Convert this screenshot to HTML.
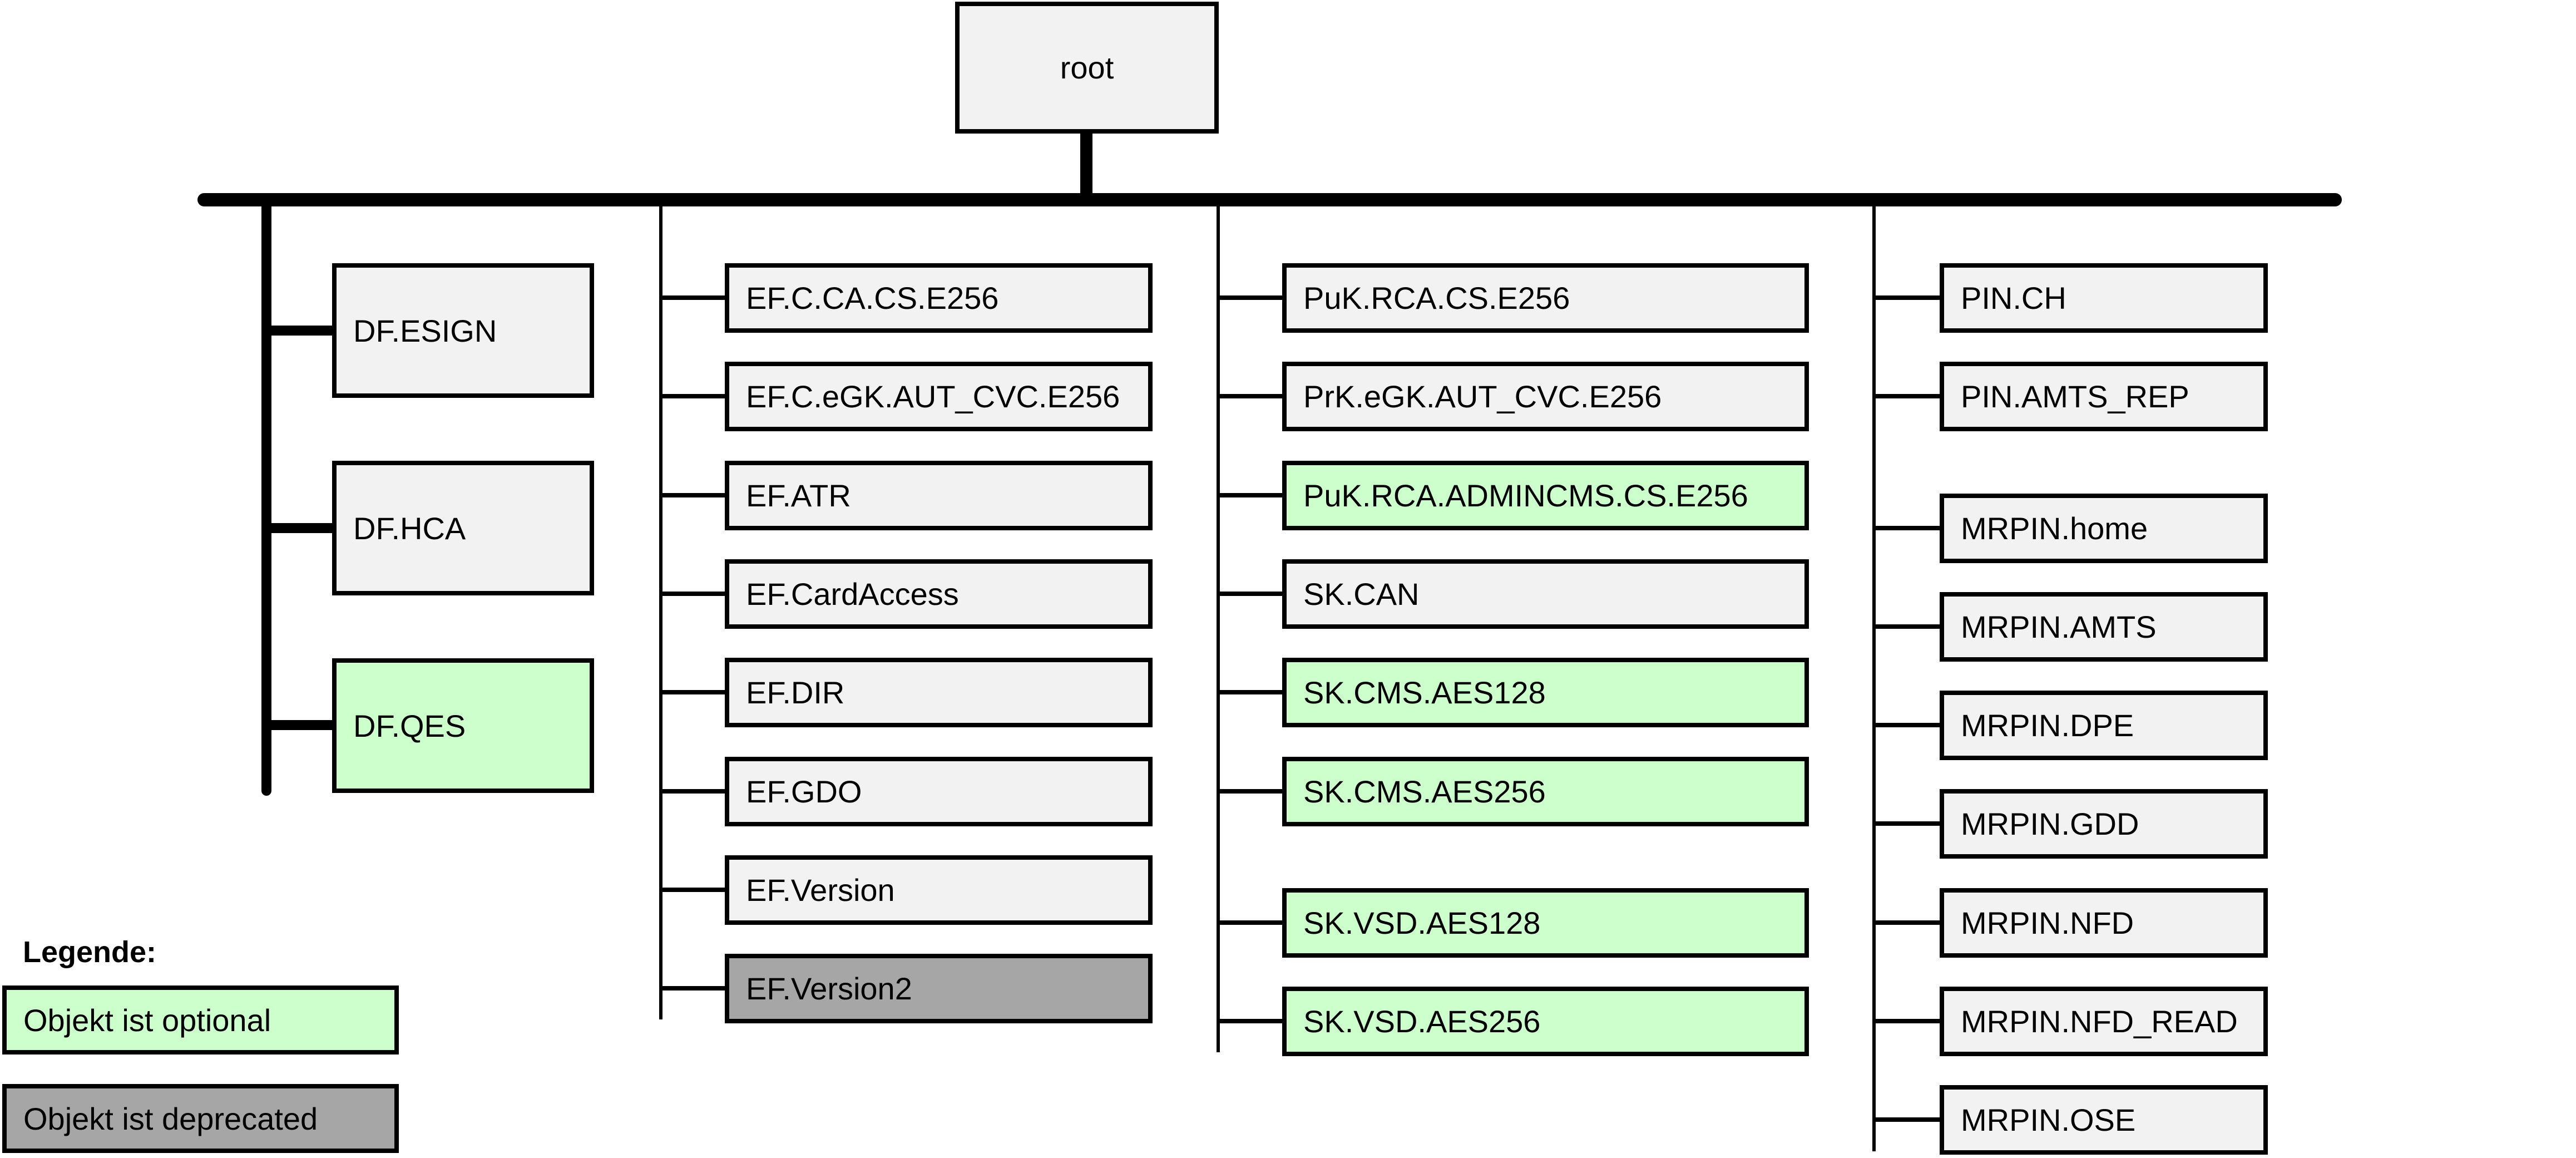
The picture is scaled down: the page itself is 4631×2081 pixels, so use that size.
<!DOCTYPE html>
<html><head><meta charset="utf-8"><style>
body{margin:0;width:4631px;height:2081px;background:#fff;position:relative;overflow:hidden;font-family:"Liberation Sans",sans-serif;}
.b{position:absolute;box-sizing:border-box;border:8px solid #000;background:#f2f2f2;font-size:56px;display:flex;align-items:center;padding-left:30px;white-space:nowrap;}
.g{background:#ccffcc}.d{background:#a6a6a6}
.l{position:absolute;background:#000}
</style></head><body>
<!-- root -->
<div class="b" style="left:1717px;top:3px;width:474px;height:237px;justify-content:center;padding-left:0">root</div>
<div class="l" style="left:1942px;top:238px;width:22px;height:124px"></div>
<div class="l" style="left:355px;top:347px;width:3855px;height:24px;border-radius:12px"></div>
<!-- col1 -->
<div class="l" style="left:470px;top:350px;width:18px;height:1080px;border-radius:9px"></div>
<div class="l" style="left:480px;top:585px;width:120px;height:18px"></div>
<div class="l" style="left:480px;top:940px;width:120px;height:18px"></div>
<div class="l" style="left:480px;top:1294px;width:120px;height:18px"></div>
<div class="b" style="left:597px;top:473px;width:471px;height:242px">DF.ESIGN</div>
<div class="b" style="left:597px;top:828px;width:471px;height:242px">DF.HCA</div>
<div class="b g" style="left:597px;top:1183px;width:471px;height:242px">DF.QES</div>
<!-- col2 -->
<div class="l" style="left:1185px;top:360px;width:6px;height:1472px"></div>
<!-- col3 -->
<div class="l" style="left:2187px;top:360px;width:6px;height:1531px"></div>
<!-- col4 -->
<div class="l" style="left:3366px;top:360px;width:6px;height:1709px"></div>
<div id="c"></div>
<!-- legend -->
<div style="position:absolute;left:41px;top:1680px;font-size:54px;font-weight:bold">Legende:</div>
<div class="b g" style="left:4px;top:1771px;width:713px;height:124px">Objekt ist optional</div>
<div class="b d" style="left:4px;top:1948px;width:713px;height:124px">Objekt ist deprecated</div>
<script>
var cols=[
 {lx:1188,x:1303,w:769,items:[[473,"EF.C.CA.CS.E256"],[650,"EF.C.eGK.AUT_CVC.E256"],[828,"EF.ATR"],[1005,"EF.CardAccess"],[1182,"EF.DIR"],[1360,"EF.GDO"],[1537,"EF.Version"],[1714,"EF.Version2","d"]]},
 {lx:2190,x:2305,w:947,items:[[473,"PuK.RCA.CS.E256"],[650,"PrK.eGK.AUT_CVC.E256"],[828,"PuK.RCA.ADMINCMS.CS.E256","g"],[1005,"SK.CAN"],[1182,"SK.CMS.AES128","g"],[1360,"SK.CMS.AES256","g"],[1596,"SK.VSD.AES128","g"],[1773,"SK.VSD.AES256","g"]]},
 {lx:3369,x:3487,w:590,items:[[473,"PIN.CH"],[650,"PIN.AMTS_REP"],[887,"MRPIN.home"],[1064,"MRPIN.AMTS"],[1241,"MRPIN.DPE"],[1418,"MRPIN.GDD"],[1596,"MRPIN.NFD"],[1773,"MRPIN.NFD_READ"],[1950,"MRPIN.OSE"]]}
];
var h="";
cols.forEach(function(c){c.items.forEach(function(it){
 var y=it[0];
 h+='<div class="l" style="left:'+c.lx+'px;top:'+(y+58)+'px;width:'+(c.x-c.lx+2)+'px;height:8px"></div>';
 h+='<div class="b '+(it[2]||"")+'" style="left:'+c.x+'px;top:'+y+'px;width:'+c.w+'px;height:125px">'+it[1]+'</div>';
});});
document.getElementById("c").innerHTML=h;
</script>
</body></html>
